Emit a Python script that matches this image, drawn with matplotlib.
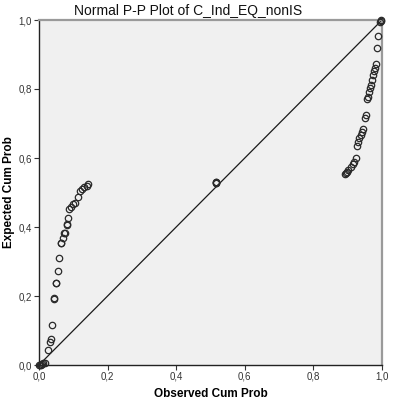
import matplotlib
matplotlib.use("Agg")
import matplotlib.pyplot as plt
from matplotlib.ticker import FuncFormatter

plt.rcParams['font.family'] = ['Liberation Sans', 'DejaVu Sans']

# Observed vs. expected cumulative probabilities
observed = [0.001, 0.003, 0.006, 0.009, 0.013, 0.017, 0.025, 0.032, 0.035, 0.038,
            0.044, 0.045, 0.050, 0.051, 0.055, 0.059, 0.064, 0.065, 0.069, 0.074,
            0.075, 0.081, 0.082, 0.085, 0.088, 0.092, 0.100, 0.105, 0.113, 0.120,
            0.126, 0.132, 0.139, 0.144,
            0.515, 0.515, 0.516, 0.515,
            0.891, 0.895, 0.898, 0.902, 0.909, 0.915, 0.919, 0.923, 0.926, 0.930,
            0.934, 0.939, 0.943, 0.946, 0.950, 0.953, 0.956, 0.959, 0.962, 0.965,
            0.969, 0.972, 0.975, 0.978, 0.980, 0.983, 0.985, 0.989, 0.994, 0.996,
            0.998]
expected = [0.000, 0.000, 0.000, 0.002, 0.007, 0.005, 0.043, 0.068, 0.075, 0.116,
            0.192, 0.194, 0.237, 0.239, 0.273, 0.311, 0.353, 0.355, 0.367, 0.382,
            0.384, 0.406, 0.408, 0.427, 0.452, 0.459, 0.466, 0.470, 0.486, 0.505,
            0.510, 0.515, 0.520, 0.525,
            0.528, 0.529, 0.528, 0.530,
            0.553, 0.557, 0.560, 0.565, 0.575, 0.582, 0.588, 0.599, 0.636, 0.647,
            0.657, 0.667, 0.674, 0.684, 0.717, 0.725, 0.771, 0.778, 0.792, 0.802,
            0.812, 0.826, 0.841, 0.852, 0.862, 0.872, 0.920, 0.954, 0.995, 0.998,
            1.000]

ticks = [0.0, 0.2, 0.4, 0.6, 0.8, 1.0]

fig = plt.figure(figsize=(3.96, 4.11), dpi=100)
ax = fig.add_axes([39/396, 1 - 365/411, 343/396, 345/411])
ax.set_facecolor('#f0f0f0')

ax.plot([0, 1], [0, 1], color='#1a1a1a', lw=0.9, zorder=2)
ax.plot(observed, expected, ls='none', marker='o', ms=4.6, mfc='none',
        mec='#2a2a2a', mew=0.9, zorder=3, clip_on=False)

ax.set_xlim(0, 1)
ax.set_ylim(0, 1)
ax.set_xticks(ticks)
ax.set_yticks(ticks)
fmt = FuncFormatter(lambda v, p: f"{v:.1f}".replace('.', ','))
ax.xaxis.set_major_formatter(fmt)
ax.yaxis.set_major_formatter(fmt)
ax.tick_params(axis='both', direction='out', length=3.5, width=0.8,
               labelsize=7, colors='#333333', labelcolor='#333333', pad=1.5)

for side in ('left', 'bottom'):
    ax.spines[side].set_color('#222222')
    ax.spines[side].set_linewidth(1.0)
for side in ('top', 'right'):
    ax.spines[side].set_color('#9a9a9a')
    ax.spines[side].set_linewidth(1.6)

ax.set_xlabel('Observed Cum Prob', fontsize=8.5, fontweight='bold')
ax.set_ylabel('Expected Cum Prob', fontsize=8.5, fontweight='bold')
ax.xaxis.set_label_coords(0.5, -0.067)
ax.yaxis.set_label_coords(-0.071, 0.5)
fig.text(188/396, 1 - 11/411, 'Normal P-P Plot of C_Ind_EQ_nonIS',
         fontsize=10, ha='center', va='center', color='#111111')

fig.savefig('out.png', dpi=100)
